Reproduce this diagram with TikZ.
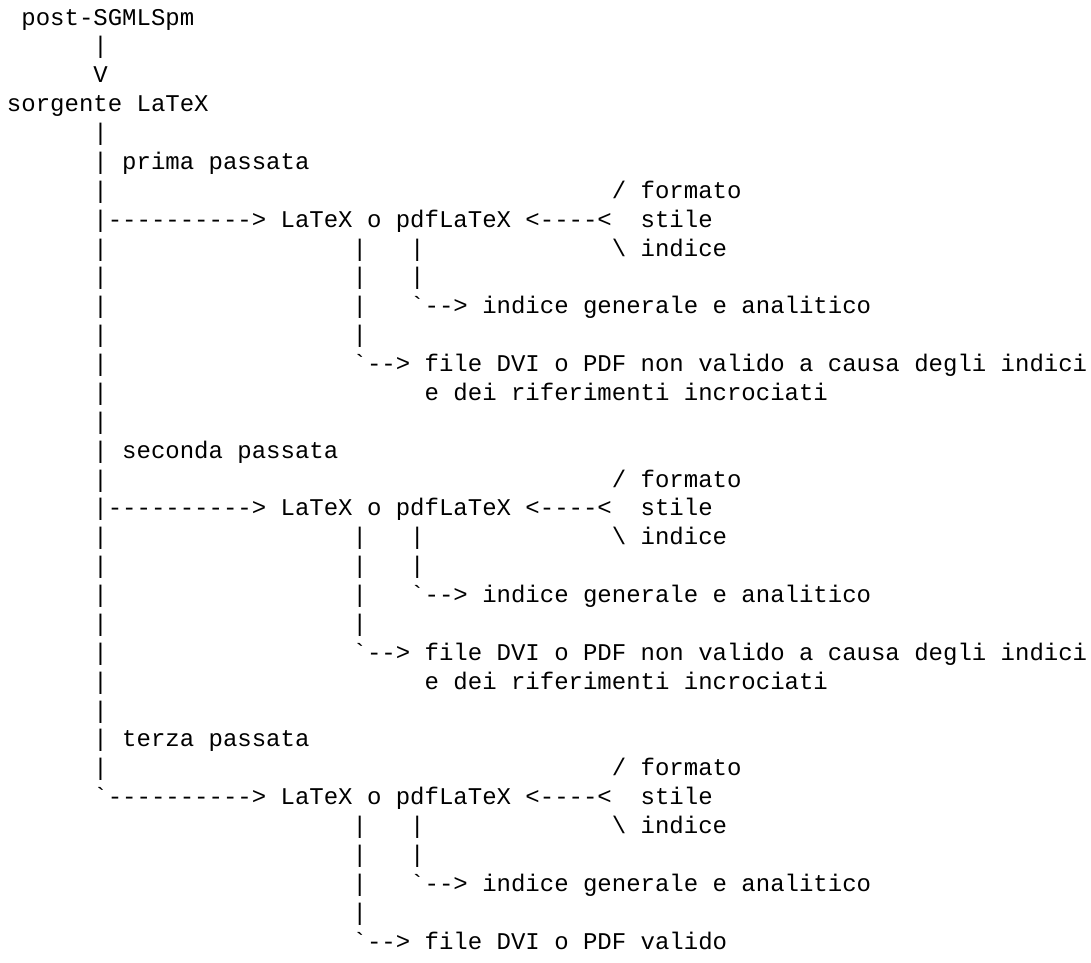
\documentclass[tikz,border=0pt]{standalone}
\usepackage{fontspec}
\setmonofont{Liberation Mono}
\usepackage{tikz}
\tikzset{asc/.style={anchor=base west,inner sep=0pt,outer sep=0pt,
  font=\ttfamily\fontsize{18}{21.66}\selectfont}}

\begin{document}
\begin{tikzpicture}[x=10.8pt,y=-21.656pt]
\path[use as bounding box] (-0.486,-0.866) rectangle (75.27,32.45);
% head
\node[asc] (post) at (1,0) {post-SGMLSpm};
\node[asc] (postbar) at (6,1) {|};
\node[asc] (down) at (6,2) {V};
\node[asc] (src) at (0,3) {sorgente LaTeX};
% trunk
\foreach \r in {4,5,6,8,9,10,11,12,13,14,15,16,18,19,20,21,22,23,24,25,26}
  \node[asc] (t\r) at (6,\r) {|};
\foreach \o in {0,10,20}{
  \foreach \r in {8,...,11} \node[asc] (x\o r\r) at (24,\o+\r) {|};
  \foreach \r in {8,9} \node[asc] (y\o r\r) at (28,\o+\r) {|};
}
% prima passata
\node[asc] (passA) at (8,5) {prima passata};
\node[asc] (fmtA) at (42,6) {/ formato};
\node[asc] (leadA) at (6,7) {|---------->};
\node[asc] (latexA) at (19,7) {LaTeX o pdfLaTeX};
\node[asc] (joinA) at (36,7) {<----<};
\node[asc] (stileA) at (44,7) {stile};
\node[asc] (idxA) at (42,8) {\textbackslash\ indice};
\node[asc] (tocA) at (28,10) {\textasciigrave--> indice generale e analitico};
\node[asc] (dviA) at (24,12) {\textasciigrave--> file DVI o PDF non valido a causa degli indici};
\node[asc] (dviAx) at (29,13) {e dei riferimenti incrociati};
% seconda passata
\node[asc] (passB) at (8,15) {seconda passata};
\node[asc] (fmtB) at (42,16) {/ formato};
\node[asc] (leadB) at (6,17) {|---------->};
\node[asc] (latexB) at (19,17) {LaTeX o pdfLaTeX};
\node[asc] (joinB) at (36,17) {<----<};
\node[asc] (stileB) at (44,17) {stile};
\node[asc] (idxB) at (42,18) {\textbackslash\ indice};
\node[asc] (tocB) at (28,20) {\textasciigrave--> indice generale e analitico};
\node[asc] (dviB) at (24,22) {\textasciigrave--> file DVI o PDF non valido a causa degli indici};
\node[asc] (dviBx) at (29,23) {e dei riferimenti incrociati};
% terza passata
\node[asc] (passC) at (8,25) {terza passata};
\node[asc] (fmtC) at (42,26) {/ formato};
\node[asc] (leadC) at (6,27) {\textasciigrave---------->};
\node[asc] (latexC) at (19,27) {LaTeX o pdfLaTeX};
\node[asc] (joinC) at (36,27) {<----<};
\node[asc] (stileC) at (44,27) {stile};
\node[asc] (idxC) at (42,28) {\textbackslash\ indice};
\node[asc] (tocC) at (28,30) {\textasciigrave--> indice generale e analitico};
\node[asc] (dviC) at (24,32) {\textasciigrave--> file DVI o PDF valido};
\end{tikzpicture}
\end{document}
